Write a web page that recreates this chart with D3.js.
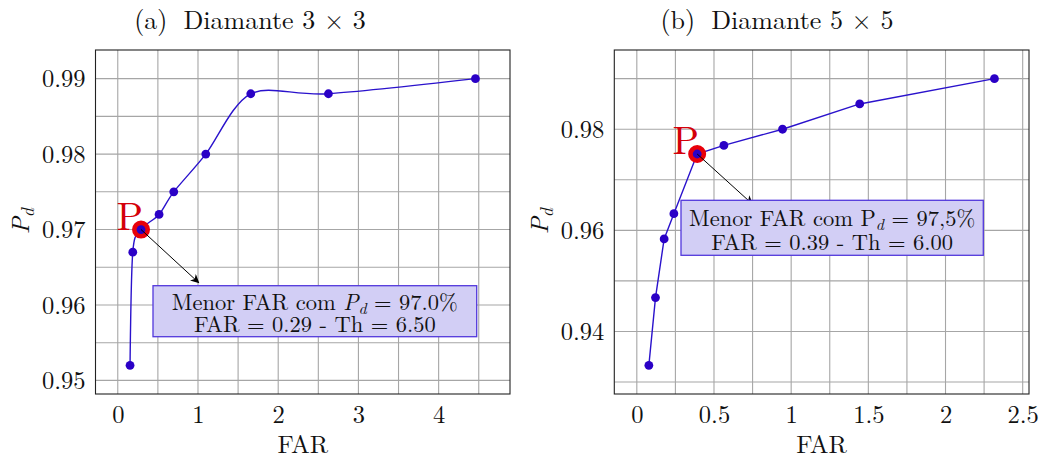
<!DOCTYPE html>
<html>
<head>
<meta charset="utf-8">
<script src="https://cdn.jsdelivr.net/npm/d3@7"></script>
<style>
  body { margin: 0; background: #fff; }
</style>
</head>
<body>
<svg id="chart" width="1043" height="460"></svg>
<script>
// data
var farA = [0.153, 0.187, 0.29, 0.515, 0.698, 1.097, 1.658, 2.626, 4.459];
var pdA = [0.952, 0.967, 0.970, 0.972, 0.975, 0.980, 0.988, 0.988, 0.990];
var farB = [0.078, 0.121, 0.177, 0.240, 0.391, 0.564, 0.944, 1.444, 2.317];
var pdB = [0.9333, 0.9467, 0.9583, 0.9633, 0.9751, 0.9768, 0.980, 0.985, 0.990];

var xTicksA = [0, 1, 2, 3, 4];
var yTicksA = [0.95, 0.96, 0.97, 0.98, 0.99];
var xTicksB = [0, 0.5, 1, 1.5, 2, 2.5];
var yTicksB = [0.94, 0.96, 0.98];

var titleA = ["(a)", "Diamante 3 × 3"];
var titleB = ["(b)", "Diamante 5 × 5"];
var noteA = ["97.0%", "FAR = 0.29 - Th = 6.50"];
var noteB = ["97,5%", "FAR = 0.39 - Th = 6.00"];

var svg = d3.select("#chart");
var top0 = 50, bottom0 = 394;
var serif = "'Latin Modern Roman', 'Liberation Serif', serif";

function enlarge(vals) {
  var e = d3.extent(vals), pad = (e[1] - e[0]) * 0.1;
  return [e[0] - pad, e[1] + pad];
}

var panels = [
  { far: farA, pd: pdA, left: 95.5, right: 510, xTicks: xTicksA, yTicks: yTicksA,
    xStep: 0.5, yStep: 0.005, fmtX: d3.format("d"), fmtY: d3.format(".2f"),
    title: titleA, titleX: 250, ylabX: 22, smooth: true, sel: 2,
    note: noteA, italicP: true, box: [153, 285.7, 323.7, 51], arrowTo: [198.7, 282.7], lines: [24.5, 46.5] },
  { far: farB, pd: pdB, left: 614.3, right: 1029, xTicks: xTicksB, yTicks: yTicksB,
    xStep: 0.25, yStep: 0.01, fmtX: d3.format(""), fmtY: d3.format(".2f"),
    title: titleB, titleX: 777, ylabX: 541, smooth: false, sel: 4,
    note: noteB, italicP: false, box: [681, 200.3, 302.3, 55], arrowTo: [752.3, 204], lines: [25.5, 50] }
];

svg.append("defs").append("marker")
  .attr("id", "arr")
  .attr("viewBox", "0 0 10 10")
  .attr("refX", 9).attr("refY", 5)
  .attr("markerWidth", 9).attr("markerHeight", 9)
  .attr("markerUnits", "userSpaceOnUse")
  .attr("orient", "auto")
  .append("path")
  .attr("d", "M0,0 L10,5 L0,10 L3,5 Z")
  .attr("fill", "#000");

panels.forEach(function(p) {
  var x = d3.scaleLinear().domain(enlarge(p.far)).range([p.left, p.right]);
  var y = d3.scaleLinear().domain(enlarge(p.pd)).range([bottom0, top0]);
  var g = svg.append("g");

  // grid
  var xd = x.domain(), yd = y.domain();
  var xg = d3.range(Math.ceil(xd[0] / p.xStep), Math.floor(xd[1] / p.xStep) + 1).map(function(i) { return i * p.xStep; });
  var yg = d3.range(Math.ceil(yd[0] / p.yStep - 1e-6), Math.floor(yd[1] / p.yStep + 1e-6) + 1).map(function(i) { return i * p.yStep; });
  g.selectAll(".gx").data(xg).enter().append("line")
    .attr("x1", function(d) { return x(d); }).attr("x2", function(d) { return x(d); })
    .attr("y1", top0).attr("y2", bottom0)
    .attr("stroke", "#a6a6a6").attr("stroke-width", 1.1);
  g.selectAll(".gy").data(yg).enter().append("line")
    .attr("y1", function(d) { return y(d); }).attr("y2", function(d) { return y(d); })
    .attr("x1", p.left).attr("x2", p.right)
    .attr("stroke", "#a6a6a6").attr("stroke-width", 1.1);

  // frame
  g.append("rect")
    .attr("x", p.left).attr("y", top0)
    .attr("width", p.right - p.left).attr("height", bottom0 - top0)
    .attr("fill", "none").attr("stroke", "#222").attr("stroke-width", 1.1);

  // axes
  var xAxis = d3.axisBottom(x).tickValues(p.xTicks).tickFormat(p.fmtX).tickSize(0).tickPadding(12);
  var yAxis = d3.axisLeft(y).tickValues(p.yTicks).tickFormat(p.fmtY).tickSize(0).tickPadding(10);
  var ax = g.append("g").attr("transform", "translate(0," + bottom0 + ")").call(xAxis);
  var ay = g.append("g").attr("transform", "translate(" + p.left + ",0)").call(yAxis);
  [ax, ay].forEach(function(a) {
    a.select(".domain").remove();
    a.selectAll("text").style("font-size", "24.5px").attr("fill", "#111");
  });
  ay.selectAll("text").attr("dy", "0.33em");

  // axis labels
  g.append("text")
    .attr("x", (p.left + p.right) / 2).attr("y", 453)
    .attr("text-anchor", "middle").style("font-size", "25px").text("FAR");
  var yl = g.append("text")
    .attr("transform", "translate(" + (p.ylabX + 7) + "," + 221 + ") rotate(-90)")
    .attr("text-anchor", "middle").style("font-size", "25px");
  yl.append("tspan").style("font-style", "italic").text("P");
  yl.append("tspan").style("font-style", "italic").style("font-size", "18px").attr("dy", 5).text("d");

  // title
  var t = g.append("text")
    .attr("x", p.titleX).attr("y", 29)
    .attr("text-anchor", "middle").style("font-size", "26px");
  t.append("tspan").text(p.title[0]);
  t.append("tspan").attr("dx", 16).text(p.title[1]);

  // curve
  var pts = p.far.map(function(f, i) { return [f, p.pd[i]]; });
  var line = d3.line()
    .x(function(d) { return x(d[0]); })
    .y(function(d) { return y(d[1]); })
    .curve(p.smooth ? d3.curveCardinal.tension(0.1) : d3.curveLinear);
  g.append("path").datum(pts)
    .attr("d", line)
    .attr("fill", "none").attr("stroke", "#2a12cc").attr("stroke-width", 1.4);

  // highlighted point
  var sp = pts[p.sel];
  g.append("circle")
    .attr("cx", x(sp[0])).attr("cy", y(sp[1])).attr("r", 8)
    .attr("fill", "#e8000b").attr("stroke", "#e8000b").attr("stroke-width", 2);

  g.selectAll(".dot").data(pts).enter().append("circle")
    .attr("cx", function(d) { return x(d[0]); })
    .attr("cy", function(d) { return y(d[1]); })
    .attr("r", 4.4)
    .attr("fill", "#2a00c6");

  g.append("text")
    .attr("x", x(sp[0]) + 2).attr("y", y(sp[1]) + 0.5)
    .attr("text-anchor", "end")
    .style("font-size", "39px").style("fill", "#d4000a")
    .text("P");

  // arrow
  g.append("line")
    .attr("x1", x(sp[0])).attr("y1", y(sp[1]))
    .attr("x2", p.arrowTo[0]).attr("y2", p.arrowTo[1])
    .attr("stroke", "#000").attr("stroke-width", 1)
    .attr("marker-end", "url(#arr)");

  // note box
  var b = p.box;
  g.append("rect")
    .attr("x", b[0]).attr("y", b[1]).attr("width", b[2]).attr("height", b[3])
    .attr("fill", "#d2cef5").attr("stroke", "#5238dc").attr("stroke-width", 1.3);
  var cx = b[0] + b[2] / 2;
  var l1 = g.append("text").attr("x", cx).attr("y", b[1] + p.lines[0])
    .attr("text-anchor", "middle").style("font-size", "22.5px");
  l1.append("tspan").text("Menor FAR com ");
  l1.append("tspan").style("font-style", p.italicP ? "italic" : "normal").text("P");
  l1.append("tspan").style("font-style", "italic").style("font-size", "16px").attr("dy", 4).text("d");
  l1.append("tspan").attr("dy", -4).text(" = " + p.note[0]);
  g.append("text").attr("x", cx).attr("y", b[1] + p.lines[1])
    .attr("text-anchor", "middle").style("font-size", "22.5px")
    .text(p.note[1]);
});

svg.selectAll("text").style("font-family", serif).style("fill", function() {
  return d3.select(this).style("fill") === "rgb(212, 0, 10)" ? "#d4000a" : "#111";
});
</script>
</body>
</html>
